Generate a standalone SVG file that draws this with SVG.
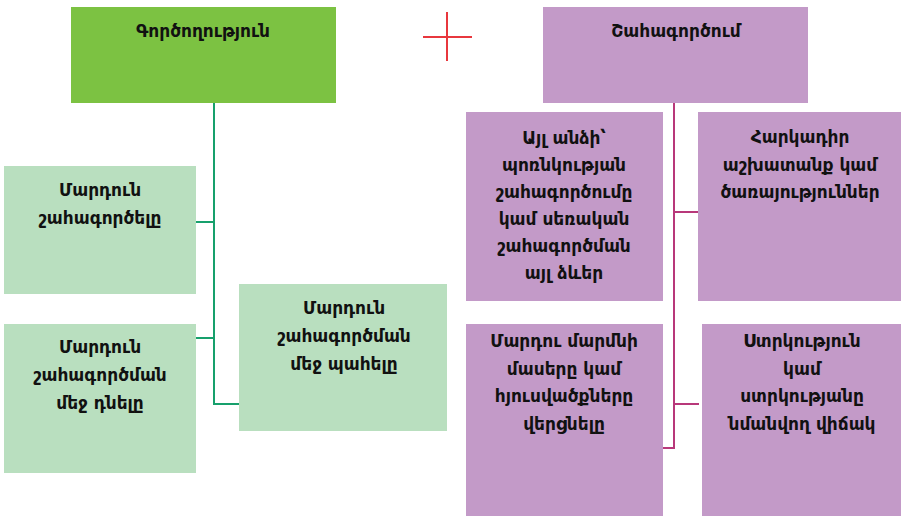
<svg xmlns="http://www.w3.org/2000/svg" width="902" height="517" viewBox="0 0 902 517">
<style>
text{font-family:"DejaVu Sans","Noto Sans",sans-serif;font-weight:bold;font-size:17px;fill:#111;text-anchor:middle}
.g{fill:#7cc242}
.lg{fill:#b9dfbf}
.p{fill:#c39ac8}
.gl{stroke:#17a06c;stroke-width:2;fill:none}
.pl{stroke:#b8387a;stroke-width:2;fill:none}
</style>
<rect width="902" height="517" fill="#fff"/>
<g id="connectors">
<path class="gl" d="M214 103V404H239M166 222H214M196 338H214"/>
<path class="pl" d="M674 96V448H663M674 212H698M674 404H699"/>
</g>
<g id="cross"><path d="M423 37H472M447 12V61" stroke="#e8373d" stroke-width="2"/></g>
<g id="n-gortsoghutyun"><rect class="g" x="71" y="7" width="265" height="96"/><text x="203" y="37">Գործողություն</text></g>
<g id="n-shahagortsum"><rect class="p" x="543" y="7" width="265" height="96"/><text x="676" y="37">Շահագործում</text></g>
<g id="n-1"><rect class="lg" x="4" y="166" width="192" height="128"/><text x="100" y="196">Մարդուն</text><text x="100" y="224">շահագործելը</text></g>
<g id="n-2"><rect class="lg" x="4" y="324" width="192" height="149"/><text x="100" y="353">Մարդուն</text><text x="100" y="381">շահագործման</text><text x="100" y="409">մեջ դնելը</text></g>
<g id="n-3"><rect class="lg" x="239" y="284" width="208" height="147"/><text x="344" y="314">Մարդուն</text><text x="344" y="342">շահագործման</text><text x="344" y="370">մեջ պահելը</text></g>
<g id="n-4"><rect class="p" x="466" y="112" width="197" height="189"/><text x="564" y="144">Այլ անձի՝</text><text x="564" y="171">պոռնկության</text><text x="564" y="198">շահագործումը</text><text x="564" y="225">կամ սեռական</text><text x="564" y="252">շահագործման</text><text x="564" y="279">այլ ձևեր</text></g>
<g id="n-5"><rect class="p" x="698" y="112" width="203" height="189"/><text x="800" y="143">Հարկադիր</text><text x="800" y="171">աշխատանք կամ</text><text x="800" y="198">ծառայություններ</text></g>
<g id="n-6"><rect class="p" x="466" y="324" width="197" height="192"/><text x="564" y="347">Մարդու մարմնի</text><text x="564" y="375">մասերը կամ</text><text x="564" y="402">հյուսվածքները</text><text x="564" y="430">վերցնելը</text></g>
<g id="n-7"><rect class="p" x="702" y="324" width="199" height="192"/><text x="802" y="347">Ստրկություն</text><text x="802" y="375">կամ</text><text x="802" y="402">ստրկությանը</text><text x="802" y="430">նմանվող վիճակ</text></g>
</svg>
